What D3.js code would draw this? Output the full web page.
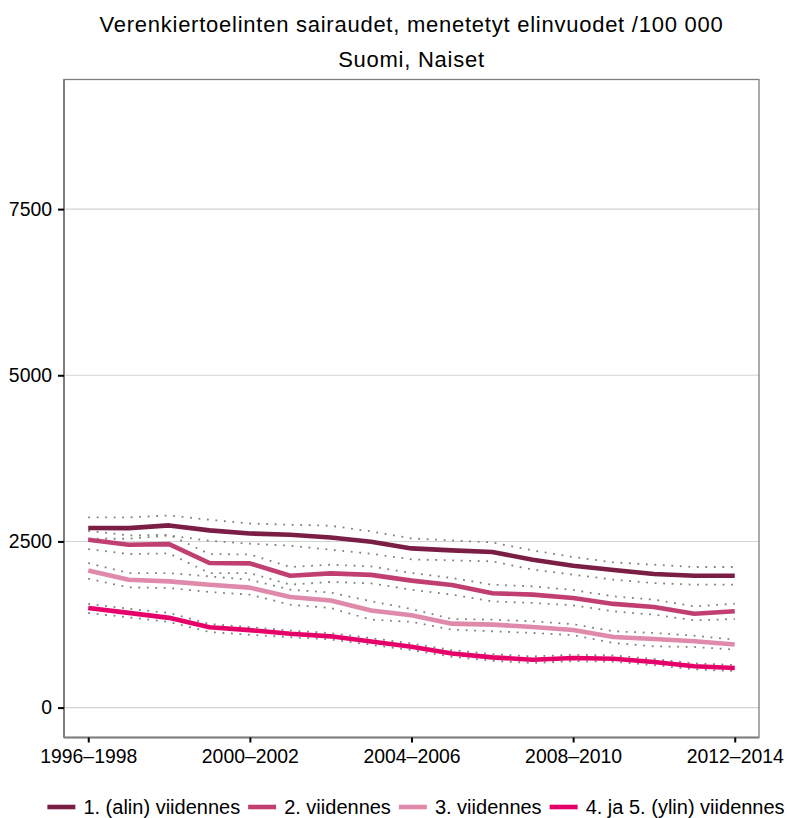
<!DOCTYPE html>
<html>
<head>
<meta charset="utf-8">
<script src="https://cdn.jsdelivr.net/npm/d3@7"></script>
<style>
  body { margin: 0; background: #fff; }
  text { font-family: "Liberation Sans", Arial, sans-serif; fill: #000; }
</style>
</head>
<body>
<svg width="787" height="818"></svg>
<script>
// periods (rolling three year windows)
var periods = ["1996–1998", "1997–1999", "1998–2000", "1999–2001", "2000–2002", "2001–2003",
    "2002–2004", "2003–2005", "2004–2006", "2005–2007", "2006–2008", "2007–2009",
    "2008–2010", "2009–2011", "2010–2012", "2011–2013", "2012–2014"];
var tickPeriods = ["1996–1998", "2000–2002", "2004–2006", "2008–2010", "2012–2014"];
var yTicks = [0, 2500, 5000, 7500];

var groups = ["1. (alin) viidennes", "2. viidennes", "3. viidennes", "4. ja 5. (ylin) viidennes"];
var colors = ["#7b1e45", "#c13f70", "#df8aab", "#e6006a"];

// values per group: mean, upper and lower limit
var q1 = [2701, 2700, 2741, 2666, 2620, 2601, 2560, 2495, 2395, 2365, 2340, 2225, 2135, 2070, 2010, 1984, 1984];
var q1Hi = [2861, 2861, 2891, 2826, 2770, 2751, 2736, 2651, 2545, 2515, 2485, 2365, 2265, 2185, 2150, 2115, 2115];
var q1Lo = [2540, 2540, 2590, 2510, 2466, 2436, 2375, 2315, 2230, 2215, 2200, 2075, 2000, 1924, 1874, 1849, 1849];

var q2 = [2524, 2450, 2460, 2175, 2170, 1984, 2020, 1997, 1910, 1845, 1720, 1700, 1650, 1560, 1514, 1413, 1450];
var q2Hi = [2660, 2590, 2600, 2310, 2305, 2115, 2150, 2124, 2024, 1950, 1849, 1824, 1770, 1674, 1624, 1523, 1563];
var q2Lo = [2385, 2310, 2320, 2024, 2024, 1850, 1890, 1870, 1774, 1699, 1598, 1574, 1540, 1448, 1398, 1313, 1333];

var q3 = [2062, 1924, 1899, 1849, 1805, 1664, 1610, 1460, 1390, 1263, 1248, 1213, 1168, 1063, 1033, 997, 950];
var q3Hi = [2175, 2024, 2024, 1974, 1924, 1774, 1730, 1600, 1484, 1333, 1323, 1298, 1255, 1148, 1123, 1082, 1022];
var q3Lo = [1939, 1809, 1799, 1739, 1699, 1548, 1498, 1323, 1290, 1173, 1148, 1123, 1090, 972, 922, 912, 872];

var q45 = [1498, 1425, 1350, 1208, 1165, 1110, 1072, 995, 915, 815, 755, 720, 747, 735, 685, 621, 596];
var q45Hi = [1559, 1488, 1423, 1258, 1210, 1160, 1120, 1045, 965, 865, 805, 770, 795, 785, 730, 665, 640];
var q45Lo = [1423, 1358, 1288, 1138, 1095, 1060, 1025, 945, 865, 765, 705, 670, 700, 690, 640, 575, 550];

var series = [
    { name: groups[0], color: colors[0], mean: q1, hi: q1Hi, lo: q1Lo },
    { name: groups[1], color: colors[1], mean: q2, hi: q2Hi, lo: q2Lo },
    { name: groups[2], color: colors[2], mean: q3, hi: q3Hi, lo: q3Lo },
    { name: groups[3], color: colors[3], mean: q45, hi: q45Hi, lo: q45Lo }
];

var svg = d3.select("svg"),
    panel = { left: 64, right: 759, top: 79.5, bottom: 737.5 };

var x = d3.scalePoint()
    .domain(periods)
    .range([panel.left, panel.right])
    .padding(0.6);

// 0..9000 with 5% expansion
var y = d3.scaleLinear()
    .domain([-450, 9450])
    .range([panel.bottom, panel.top]);

// title
svg.append("text")
    .attr("x", (panel.left + panel.right) / 2)
    .attr("y", 31.5)
    .attr("text-anchor", "middle")
    .style("font-size", "22px")
    .style("letter-spacing", "0.75px")
    .text("Verenkiertoelinten sairaudet, menetetyt elinvuodet /100 000");

svg.append("text")
    .attr("x", (panel.left + panel.right) / 2)
    .attr("y", 67)
    .attr("text-anchor", "middle")
    .style("font-size", "22px")
    .style("letter-spacing", "0.75px")
    .text("Suomi, Naiset");

// grid
svg.append("g")
    .selectAll("line")
    .data(yTicks)
    .enter().append("line")
    .attr("x1", panel.left)
    .attr("x2", panel.right)
    .attr("y1", function (d) { return y(d); })
    .attr("y2", function (d) { return y(d); })
    .attr("stroke", "#d4d4d4")
    .attr("stroke-width", 1.1);

var line = d3.line()
    .x(function (d, i) { return x(periods[i]); })
    .y(function (d) { return y(d); });

// confidence limits, dotted
series.forEach(function (s) {
    [s.hi, s.lo].forEach(function (vals) {
        svg.append("path")
            .datum(vals)
            .attr("fill", "none")
            .attr("stroke", "#7f7f7f")
            .attr("stroke-width", 1.8)
            .attr("stroke-dasharray", "1.8,6.7")
            .attr("d", line);
    });
});

// means
series.forEach(function (s) {
    svg.append("path")
        .datum(s.mean)
        .attr("fill", "none")
        .attr("stroke", s.color)
        .attr("stroke-width", 4.6)
        .attr("stroke-linejoin", "round")
        .attr("d", line);
});

// panel border
svg.append("rect")
    .attr("x", panel.left)
    .attr("y", panel.top)
    .attr("width", panel.right - panel.left)
    .attr("height", panel.bottom - panel.top)
    .attr("fill", "none")
    .attr("stroke", "#7f7f7f")
    .attr("stroke-width", 1.3);

// axes
var xAxis = d3.axisBottom(x).tickValues(tickPeriods).tickSize(5).tickPadding(7);
var yAxis = d3.axisLeft(y).tickValues(yTicks).tickFormat(d3.format("d")).tickSize(6).tickPadding(6);

var gx = svg.append("g")
    .attr("transform", "translate(0," + panel.bottom + ")")
    .call(xAxis);
var gy = svg.append("g")
    .attr("transform", "translate(" + panel.left + ",0)")
    .call(yAxis);

[gx, gy].forEach(function (g) {
    g.select(".domain").attr("stroke", "#7f7f7f").attr("stroke-width", 2);
    g.selectAll(".tick line").attr("stroke", "#000").attr("stroke-width", 2);
    g.selectAll(".tick text")
        .style("font-size", "19.4px")
        .style("font-family", "'Liberation Sans', Arial, sans-serif")
        .attr("fill", "#000");
});
gx.select(".domain").attr("d", "M" + panel.left + ",0H" + panel.right);
gy.select(".domain").attr("d", "M0," + panel.bottom + "V" + panel.top);

// legend
var legend = svg.append("g").attr("class", "legend");
var lx = 0;
series.forEach(function (s) {
    var item = legend.append("g").attr("transform", "translate(" + lx + ",0)");
    item.append("line")
        .attr("x1", 0).attr("x2", 28)
        .attr("y1", 0).attr("y2", 0)
        .attr("stroke", s.color)
        .attr("stroke-width", 4.6);
    var t = item.append("text")
        .attr("x", 36)
        .attr("y", 0)
        .attr("dy", "0.35em")
        .style("font-size", "20px")
        .text(s.name);
    lx += 36 + t.node().getComputedTextLength() + 8;
});
lx -= 8;
legend.attr("transform", "translate(" + (416 - lx / 2) + ",807)");
</script>
</body>
</html>
